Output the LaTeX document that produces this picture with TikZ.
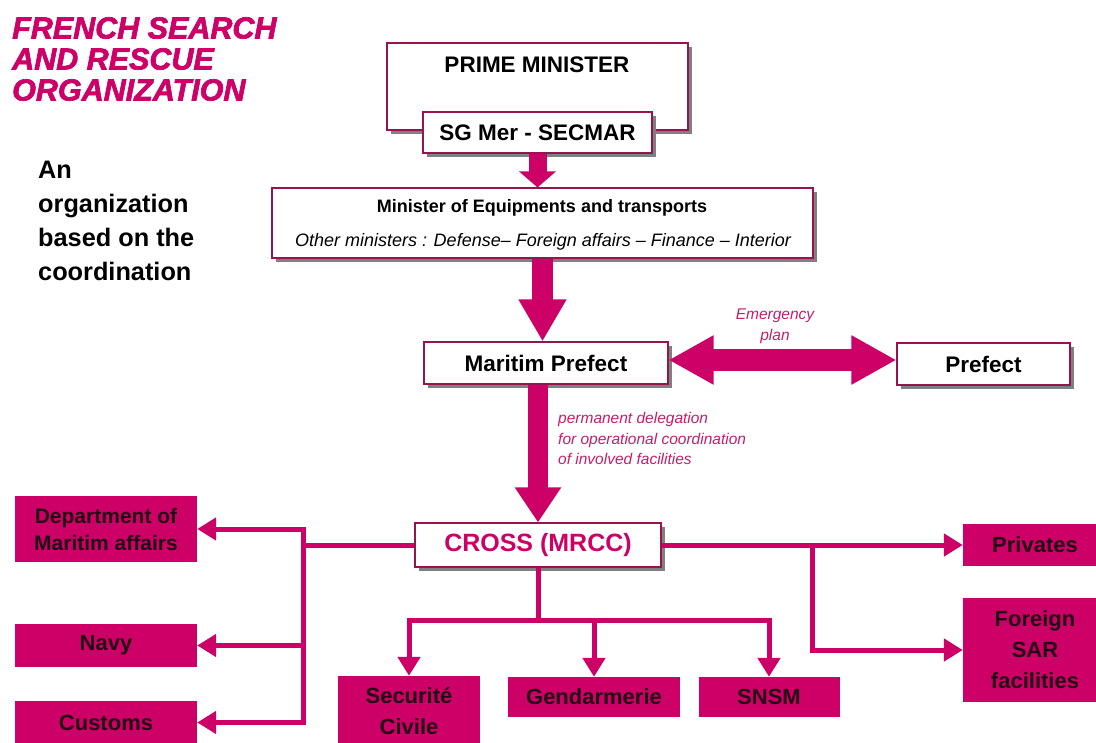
\documentclass[tikz,border=0pt]{standalone}
\usepackage{fontspec}
\setmainfont{Liberation Sans}
\newfontfamily\titlefont{Liberation Sans}[FakeBold=2.2]
\usetikzlibrary{arrows.meta,shadows}
\definecolor{mag}{RGB}{204,0,102}
\definecolor{boxline}{RGB}{150,20,80}
\definecolor{dark}{RGB}{35,5,20}
\definecolor{lab}{RGB}{195,30,105}
\tikzset{ctip/.tip={Triangle[width=22pt,length=19pt]}}
\begin{document}
\begin{tikzpicture}[x=1pt,y=-1pt,
 wbox/.style={draw=boxline, fill=white, line width=1.1pt, inner sep=0pt, align=center, text=black,
   drop shadow={shadow xshift=4pt, shadow yshift=-4pt, fill=black!50, opacity=1}},
 fbox/.style={fill=mag, inner sep=0pt, align=center, text=dark, font=\bfseries\fontsize{22}{31}\selectfont},
 conn/.style={draw=mag, line width=5pt},
 bigtxt/.style={font=\bfseries\fontsize{22.5}{26}\selectfont},
 lbl/.style={text=lab, font=\itshape\fontsize{15.5}{20.5}\selectfont, inner sep=0pt},
]
\path[use as bounding box] (0,0) rectangle (1096,743);
\clip (0,0) rectangle (1096,743);

% titles
\node[anchor=west, align=left, text=mag, inner sep=0pt, font=\titlefont\bfseries\itshape\fontsize{30.5}{31}\selectfont] (title) at (12,59) {FRENCH SEARCH\\AND RESCUE\\ORGANIZATION};
\node[anchor=west, align=left, inner sep=0pt, font=\bfseries\fontsize{25.3}{34}\selectfont] (intro) at (38,221) {An\\organization\\based on the\\coordination};

% white boxes
\node[wbox, minimum width=301pt, minimum height=87pt] (pm) at (537.5,86.5) {};
\node[bigtxt] (pmt) at (537,65) {PRIME MINISTER};
\node[wbox, bigtxt, minimum width=229pt, minimum height=41pt] (sg) at (537.5,132.5) {SG Mer - SECMAR};
\node[wbox, minimum width=541pt, minimum height=70pt] (min) at (542.5,223) {};
\node[font=\bfseries\fontsize{18}{20}\selectfont, inner sep=0pt] (min1) at (542,208) {Minister of Equipments and transports};
\node[font=\itshape\fontsize{18}{20}\selectfont, inner sep=0pt] (min2) at (543,242) {Other ministers : Defense– Foreign affairs – Finance – Interior};
\node[wbox, bigtxt, minimum width=244pt, minimum height=42pt] (mp) at (546,363) {Maritim Prefect};
\node[wbox, bigtxt, minimum width=173pt, minimum height=42pt] (prefect) at (983.5,364) {Prefect};
\node[wbox, minimum width=246pt, minimum height=44pt, text=mag, font=\bfseries\fontsize{25}{28}\selectfont] (cross) at (538,545) {CROSS (MRCC)};

% labels
\node[lbl, align=center] (emlab) at (775,326.5) {Emergency\\plan};
\node[lbl, anchor=west, align=left] (dellab) at (558,438.5) {permanent delegation\\for operational coordination\\of involved facilities};

% filled boxes
\node[fbox, minimum width=182pt, minimum height=66pt, font=\bfseries\fontsize{21}{27}\selectfont] (dept) at (106,529) {Department of\\Maritim affairs};
\node[fbox, minimum width=182pt, minimum height=43pt] (navy) at (106,645.5) {Navy};
\node[fbox, minimum width=182pt, minimum height=44pt] (customs) at (106,722.5) {Customs};
\node[fbox, minimum width=142pt, minimum height=70pt] (secu) at (409,711) {Securité\\Civile};
\node[fbox, minimum width=172pt, minimum height=40pt] (gend) at (594,697) {Gendarmerie};
\node[fbox, minimum width=141pt, minimum height=40pt] (snsm) at (769,697) {SNSM};
\node[fbox, minimum width=144pt, minimum height=42pt] (privates) at (1035,545) {Privates};
\node[fbox, minimum width=144pt, minimum height=104pt] (foreign) at (1035,650) {Foreign\\SAR\\facilities};

% fat arrows
\draw[mag, line width=18pt, -{Triangle[width=36pt,length=16pt]}] (sg.south) -- (min.north -| sg.south);
\draw[mag, line width=21pt, -{Triangle[width=45pt,length=42pt]}] (min.south) -- (min.south |- mp.north);
\draw[mag, line width=20pt, -{Triangle[width=44pt,length=35pt]}] (cross.north |- mp.south) -- (cross.north);
\coordinate (ea) at (780,360);
\draw[mag, line width=22pt, {Triangle[width=46pt,length=45pt]}-{Triangle[width=46pt,length=45pt]}] (mp.east |- ea) -- (prefect.west |- ea);

% connectors
\coordinate (bl) at (303,722.5);
\draw[conn, ctip-ctip] (dept.east) -| (bl) -- (customs.east);
\draw[conn, -ctip] (navy.east -| bl) -- (navy.east);
\draw[conn] (cross.west) -- (cross.west -| bl);
\coordinate (br) at (812,650);
\draw[conn, -ctip] (cross.east) -- (privates.west);
\draw[conn, -ctip] (cross.east -| br) |- (foreign.west);
\coordinate (bb) at (538,620);
\draw[conn] (cross.south) -- (bb);
\draw[conn, ctip-ctip] (secu.north) |- (bb) -| (snsm.north);
\draw[conn, -ctip] (gend.north |- bb) -- (gend.north);
\end{tikzpicture}
\end{document}
